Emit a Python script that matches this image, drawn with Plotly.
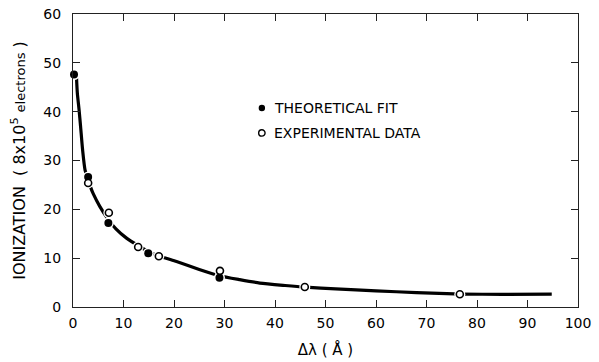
import plotly.graph_objects as go

# Theoretical fit (filled points)
fit_x = [0.2, 3.0, 7.0, 14.9, 29.0]
fit_y = [47.6, 26.6, 17.2, 11.0, 6.0]

# Experimental data (open points)
exp_x = [3.0, 7.1, 12.9, 17.0, 29.1, 45.9, 76.6]
exp_y = [25.4, 19.3, 12.3, 10.4, 7.4, 4.1, 2.6]

# Smooth curve
curve_x = [0.7, 0.86, 1.2, 1.5, 1.9, 2.4, 3.0, 3.5, 4.0, 5.3, 7.0, 8.5, 10.6, 13.0,
           15.0, 17.5, 20.5, 25.0, 29.0, 33.0, 37.0, 42.0, 46.0, 52.0, 60.0, 68.0,
           77.0, 85.0, 94.8]
curve_y = [46.9, 43.8, 40.4, 37.0, 32.2, 28.0, 26.3, 24.5, 23.2, 20.6, 17.9, 16.0,
           14.1, 12.5, 11.3, 10.3, 9.3, 7.7, 6.4, 5.6, 4.9, 4.4, 4.05, 3.7, 3.3,
           2.95, 2.65, 2.6, 2.62]

x_ticks = list(range(0, 101, 10))
y_ticks = list(range(0, 61, 10))

legend_labels = ["THEORETICAL FIT", "EXPERIMENTAL DATA"]

FONT = "DejaVu Sans"

fig = go.Figure()
fig.add_trace(go.Scatter(x=curve_x, y=curve_y, mode="lines",
                         line=dict(color="black", width=3.2, shape="spline", smoothing=0.6),
                         showlegend=False, hoverinfo="skip"))
# white halos that break the curve around markers
fig.add_trace(go.Scatter(x=fit_x + exp_x, y=fit_y + exp_y, mode="markers",
                         marker=dict(color="white", size=11, line=dict(width=0)),
                         showlegend=False, hoverinfo="skip", cliponaxis=False))
fig.add_trace(go.Scatter(x=fit_x, y=fit_y, mode="markers", name=legend_labels[0],
                         marker=dict(color="black", size=8, line=dict(width=0)),
                         showlegend=False, cliponaxis=False))
fig.add_trace(go.Scatter(x=exp_x, y=exp_y, mode="markers", name=legend_labels[1],
                         marker=dict(color="white", size=7, line=dict(color="black", width=1.6)),
                         showlegend=False, cliponaxis=False))

# legend drawn as shapes + annotations
leg_y = [0.679, 0.594]
for i, lab in enumerate(legend_labels):
    fig.add_annotation(x=0.394, y=leg_y[i], xref="paper", yref="paper", text=lab,
                       showarrow=False, xanchor="left", yanchor="middle",
                       font=dict(family=FONT, size=14, color="black"))
    cx, cy = 0.374, leg_y[i]
    r_x, r_y = 3.2 / 505, 3.2 / 293
    fig.add_shape(type="circle", xref="paper", yref="paper",
                  x0=cx - r_x, x1=cx + r_x, y0=cy - r_y, y1=cy + r_y,
                  fillcolor="black" if i == 0 else "white",
                  line=dict(color="black", width=0 if i == 0 else 1.4))

axis_common = dict(showgrid=False, zeroline=False, showline=True, linecolor="#222",
                   linewidth=1.2, mirror="ticks", ticks="inside", ticklen=7,
                   tickwidth=1.1, tickcolor="#222", automargin=False,
                   tickfont=dict(family=FONT, size=14, color="black"))

fig.update_xaxes(range=[0, 100], tickvals=x_ticks, ticktext=[str(v) for v in x_ticks],
                 ticklabelstandoff=3,
                 title=dict(text="Δλ ( Å )", font=dict(family=FONT, size=15, color="black"),
                            standoff=14),
                 **axis_common)
fig.update_yaxes(range=[0, 60], tickvals=y_ticks, ticktext=[str(v) for v in y_ticks],
                 ticklabelstandoff=8,
                 title=dict(text="IONIZATION  ( 8x10<sup>5</sup> <span style='font-size:13px'>electrons</span> )",
                            font=dict(family=FONT, size=16, color="black"), standoff=13),
                 **axis_common)

fig.update_layout(width=599, height=362, margin=dict(l=73, r=21, t=14, b=55),
                  plot_bgcolor="white", paper_bgcolor="white", showlegend=False)

fig.write_html("out.html", config={"displayModeBar": False},
               post_script="document.body.style.margin='0';")
